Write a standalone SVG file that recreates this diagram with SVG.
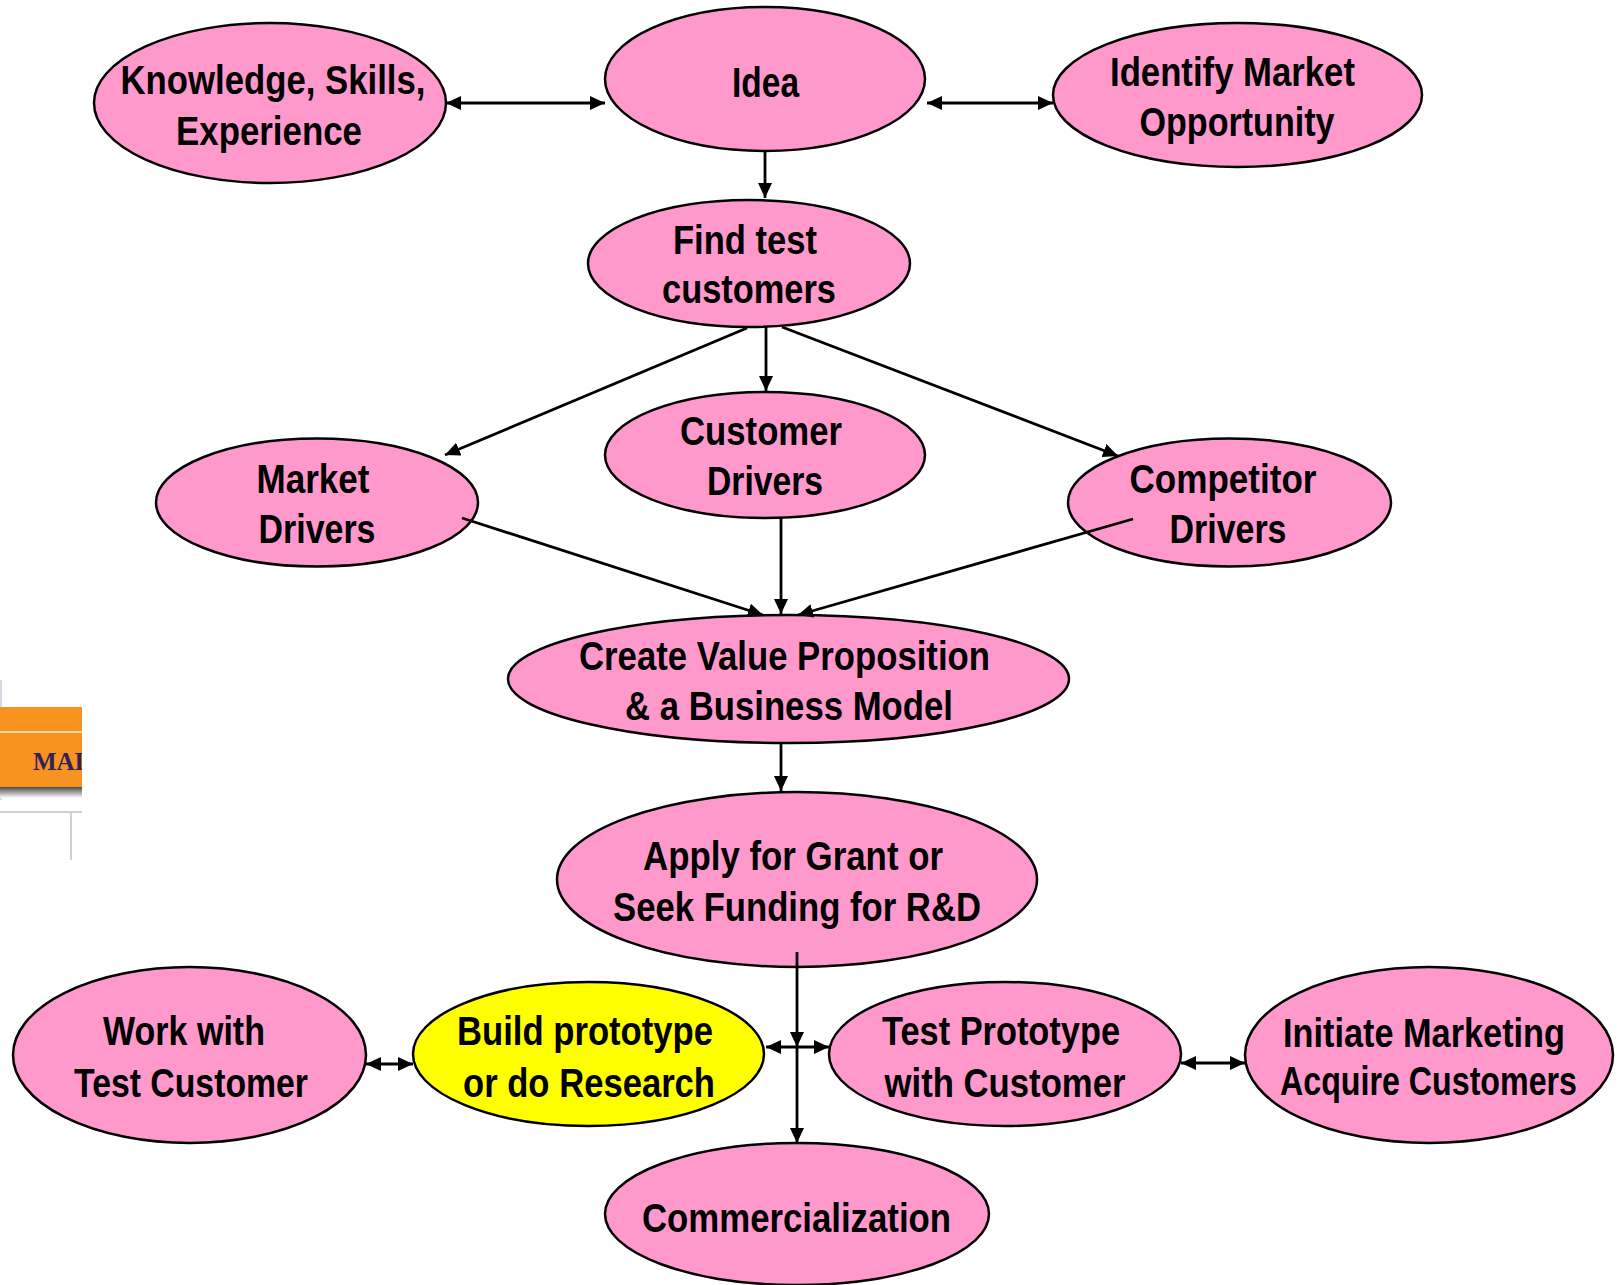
<svg xmlns="http://www.w3.org/2000/svg" width="1617" height="1285" viewBox="0 0 1617 1285">
<defs>
<style>
.n ellipse{fill:#FF99CC;stroke:#000;stroke-width:2.5}
.n.y ellipse{fill:#FFFF00}
.n text{font-family:'Liberation Sans Narrow','Liberation Sans',Arial,sans-serif;font-weight:bold;font-size:40px;text-anchor:middle;fill:#000}
.c line{stroke:#000;stroke-width:2.8;fill:none}
.c .a{marker-end:url(#ah)}
.c .d{marker-start:url(#ah);marker-end:url(#ah)}
</style>
<marker id="ah" markerUnits="userSpaceOnUse" markerWidth="16" markerHeight="14" refX="15" refY="7" orient="auto-start-reverse">
<path d="M0,0 L15,7 L0,14 z" fill="#000"/>
</marker>
<linearGradient id="sh" x1="0" y1="0" x2="0" y2="1">
<stop offset="0" stop-color="#4a4a4a"/>
<stop offset="1" stop-color="#ffffff"/>
</linearGradient>
<clipPath id="mc"><rect x="0" y="700" width="82" height="100"/></clipPath>
</defs>
<rect width="1617" height="1285" fill="#fff"/>

<g id="fragment">
<line x1="1" y1="680" x2="1" y2="800" stroke="#d4dbe3" stroke-width="2"/>
<rect x="0" y="707" width="82" height="80" fill="#F7931E"/>
<line x1="0" y1="732" x2="82" y2="732" stroke="#FAD7A6" stroke-width="2"/>
<rect x="0" y="787" width="82" height="11" fill="url(#sh)"/>
<text x="33" y="770" clip-path="url(#mc)" font-family="'Liberation Serif',serif" font-weight="bold" font-size="25" fill="#33205a">MAL</text>
<line x1="0" y1="812" x2="82" y2="812" stroke="#d0d0d0" stroke-width="2"/>
<line x1="71" y1="812" x2="71" y2="860" stroke="#d0d0d0" stroke-width="2"/>
</g>

<g id="knowledge" class="n">
<ellipse cx="270" cy="103" rx="176" ry="80"/>
<text x="273" y="94" textLength="305" lengthAdjust="spacingAndGlyphs">Knowledge, Skills,</text>
<text x="269" y="145" textLength="186" lengthAdjust="spacingAndGlyphs">Experience</text>
</g>
<g id="idea" class="n">
<ellipse cx="765" cy="79" rx="160" ry="72"/>
<text x="765.5" y="97" textLength="67" lengthAdjust="spacingAndGlyphs" style="font-size:43px">Idea</text>
</g>
<g id="identify" class="n">
<ellipse cx="1237.5" cy="95" rx="184.5" ry="72"/>
<text x="1232.5" y="86" textLength="245" lengthAdjust="spacingAndGlyphs">Identify Market</text>
<text x="1237" y="136" textLength="195" lengthAdjust="spacingAndGlyphs">Opportunity</text>
</g>
<g id="find" class="n">
<ellipse cx="749" cy="263.5" rx="161" ry="63.5"/>
<text x="745" y="254" textLength="144" lengthAdjust="spacingAndGlyphs">Find test</text>
<text x="749" y="303" textLength="174" lengthAdjust="spacingAndGlyphs">customers</text>
</g>
<g id="customer" class="n">
<ellipse cx="765" cy="455" rx="160" ry="63"/>
<text x="761" y="445" textLength="162" lengthAdjust="spacingAndGlyphs">Customer</text>
<text x="765" y="495" textLength="116" lengthAdjust="spacingAndGlyphs">Drivers</text>
</g>
<g id="market" class="n">
<ellipse cx="317" cy="502.5" rx="161" ry="64"/>
<text x="313" y="493" textLength="113" lengthAdjust="spacingAndGlyphs">Market</text>
<text x="317" y="543" textLength="117" lengthAdjust="spacingAndGlyphs">Drivers</text>
</g>
<g id="competitor" class="n">
<ellipse cx="1229.5" cy="502.5" rx="161.5" ry="64"/>
<text x="1223" y="493" textLength="187" lengthAdjust="spacingAndGlyphs">Competitor</text>
<text x="1228" y="543" textLength="117" lengthAdjust="spacingAndGlyphs">Drivers</text>
</g>
<g id="create" class="n">
<ellipse cx="788.5" cy="679" rx="280.5" ry="64"/>
<text x="784.5" y="670" textLength="411" lengthAdjust="spacingAndGlyphs">Create Value Proposition</text>
<text x="789" y="720" textLength="328" lengthAdjust="spacingAndGlyphs">&amp; a Business Model</text>
</g>
<g id="apply" class="n">
<ellipse cx="797" cy="879.5" rx="240" ry="87.5"/>
<text x="793" y="870" textLength="300" lengthAdjust="spacingAndGlyphs">Apply for Grant or</text>
<text x="797" y="921" textLength="368" lengthAdjust="spacingAndGlyphs">Seek Funding for R&amp;D</text>
</g>
<g id="work" class="n">
<ellipse cx="189.5" cy="1055" rx="176.5" ry="88"/>
<text x="184" y="1045" textLength="162" lengthAdjust="spacingAndGlyphs">Work with</text>
<text x="191" y="1097" textLength="234" lengthAdjust="spacingAndGlyphs">Test Customer</text>
</g>
<g id="build" class="n y">
<ellipse cx="588.5" cy="1054" rx="175.5" ry="72"/>
<text x="585" y="1045" textLength="256" lengthAdjust="spacingAndGlyphs">Build prototype</text>
<text x="589" y="1097" textLength="252" lengthAdjust="spacingAndGlyphs">or do Research</text>
</g>
<g id="test" class="n">
<ellipse cx="1005" cy="1054" rx="176" ry="72"/>
<text x="1001" y="1045" textLength="238" lengthAdjust="spacingAndGlyphs">Test Prototype</text>
<text x="1005" y="1097" textLength="241" lengthAdjust="spacingAndGlyphs">with Customer</text>
</g>
<g id="initiate" class="n">
<ellipse cx="1429" cy="1055" rx="184" ry="88"/>
<text x="1424" y="1047" textLength="282" lengthAdjust="spacingAndGlyphs">Initiate Marketing</text>
<text x="1428.5" y="1095" textLength="297" lengthAdjust="spacingAndGlyphs">Acquire Customers</text>
</g>
<g id="commercialization" class="n">
<ellipse cx="797" cy="1214" rx="192" ry="71"/>
<text x="796.5" y="1232" textLength="309" lengthAdjust="spacingAndGlyphs">Commercialization</text>
</g>

<g id="connectors" class="c">
<line class="d" x1="446" y1="103" x2="605" y2="103"/>
<line class="d" x1="927" y1="103" x2="1053" y2="103"/>
<line class="a" x1="765" y1="151" x2="765" y2="198"/>
<line class="a" x1="747" y1="328" x2="445" y2="455"/>
<line class="a" x1="766" y1="327" x2="766" y2="391"/>
<line class="a" x1="782" y1="327" x2="1118" y2="456"/>
<line class="a" x1="462" y1="518" x2="763" y2="615"/>
<line class="a" x1="781" y1="518" x2="781" y2="614"/>
<line class="a" x1="1133" y1="519" x2="798" y2="615"/>
<line class="a" x1="781" y1="743" x2="781" y2="791"/>
<line class="a" x1="797" y1="952" x2="797" y2="1047"/>
<line class="a" x1="797" y1="1047" x2="797" y2="1143"/>
<line class="d" x1="766" y1="1047" x2="829" y2="1047"/>
<line class="d" x1="366" y1="1064" x2="413" y2="1064"/>
<line class="d" x1="1181" y1="1063" x2="1245" y2="1063"/>
</g>
</svg>
